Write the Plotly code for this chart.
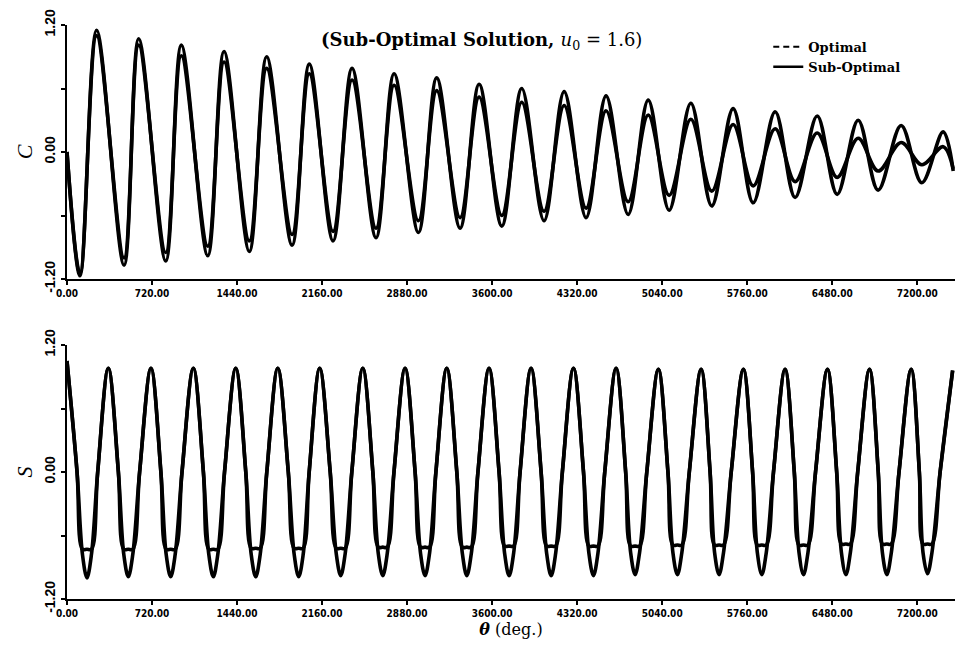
import plotly.graph_objects as go
from plotly.subplots import make_subplots

# ---------------- data ----------------
# Top panel: C versus theta (deg.) -- extrema of the two curves
c_theta = [0, 110, 251, 483, 607, 836, 968, 1192, 1330, 1544, 1691, 1906, 2052, 2253,
           2414, 2617, 2770, 2976, 3131, 3329, 3490, 3682, 3851, 4040, 4210, 4396,
           4565, 4752, 4922, 5099, 5283, 5460, 5641, 5811, 5997, 6166, 6353, 6522,
           6700, 6869, 7064, 7239, 7420, 7505]
c_optimal = [0.0, -1.17, 1.15, -1.07, 1.07, -1.03, 1.01, -0.98, 0.95, -0.94, 0.90,
             -0.88, 0.83, -0.84, 0.79, -0.81, 0.74, -0.76, 0.70, -0.72, 0.64, -0.70,
             0.60, -0.65, 0.57, -0.62, 0.53, -0.59, 0.49, -0.55, 0.46, -0.51, 0.41,
             -0.48, 0.38, -0.43, 0.34, -0.40, 0.30, -0.36, 0.25, -0.29, 0.19, -0.18]
c_suboptimal = [0.0, -1.15, 1.10, -1.00, 1.01, -0.95, 0.91, -0.89, 0.85, -0.84, 0.79,
                -0.78, 0.74, -0.75, 0.68, -0.72, 0.63, -0.65, 0.58, -0.62, 0.52, -0.60,
                0.47, -0.56, 0.44, -0.53, 0.39, -0.47, 0.35, -0.41, 0.31, -0.37, 0.26,
                -0.32, 0.22, -0.28, 0.18, -0.24, 0.13, -0.18, 0.09, -0.12, 0.05, -0.16]

# Bottom panel: S versus theta (deg.)
# per cycle: down-crossing, start of flat, trough, end of flat, up-crossing, peak
s_theta = [0,
           85, 131, 169, 207, 260, 350,
           435, 481, 519, 557, 615, 711,
           795, 840, 878, 916, 974, 1070,
           1155, 1201, 1239, 1277, 1334, 1429,
           1514, 1560, 1598, 1636, 1692, 1785,
           1874, 1924, 1962, 2000, 2051, 2140,
           2229, 2280, 2318, 2356, 2412, 2505,
           2590, 2636, 2674, 2712, 2769, 2863,
           2948, 2994, 3032, 3070, 3124, 3216,
           3301, 3348, 3386, 3424, 3480, 3574,
           3659, 3706, 3744, 3782, 3837, 3930,
           4015, 4062, 4100, 4138, 4195, 4289,
           4374, 4420, 4458, 4496, 4554, 4650,
           4731, 4773, 4811, 4849, 4910, 5008,
           5089, 5131, 5169, 5207, 5270, 5370,
           5446, 5484, 5522, 5560, 5625, 5728,
           5806, 5846, 5884, 5922, 5983, 6081,
           6159, 6199, 6237, 6275, 6339, 6440,
           6518, 6558, 6596, 6634, 6696, 6796,
           6870, 6905, 6943, 6981, 7046, 7149,
           7218, 7249, 7287, 7325, 7394, 7500]
s_optimal = [1.05,
             0.0, -0.78, -1.00, -0.78, 0.0, 0.98,
             0.0, -0.78, -0.99, -0.78, 0.0, 0.98,
             0.0, -0.78, -0.99, -0.78, 0.0, 0.98,
             0.0, -0.78, -0.99, -0.78, 0.0, 0.98,
             0.0, -0.78, -0.99, -0.78, 0.0, 0.98,
             0.0, -0.78, -0.99, -0.78, 0.0, 0.98,
             0.0, -0.77, -0.98, -0.77, 0.0, 0.98,
             0.0, -0.77, -0.98, -0.77, 0.0, 0.98,
             0.0, -0.77, -0.98, -0.77, 0.0, 0.98,
             0.0, -0.77, -0.98, -0.77, 0.0, 0.98,
             0.0, -0.77, -0.98, -0.77, 0.0, 0.98,
             0.0, -0.77, -0.98, -0.77, 0.0, 0.98,
             0.0, -0.77, -0.98, -0.77, 0.0, 0.98,
             0.0, -0.76, -0.97, -0.76, 0.0, 0.97,
             0.0, -0.76, -0.97, -0.76, 0.0, 0.97,
             0.0, -0.76, -0.97, -0.76, 0.0, 0.97,
             0.0, -0.76, -0.97, -0.76, 0.0, 0.97,
             0.0, -0.76, -0.97, -0.76, 0.0, 0.97,
             0.0, -0.76, -0.97, -0.76, 0.0, 0.97,
             0.0, -0.76, -0.97, -0.76, 0.0, 0.97,
             0.0, -0.76, -0.96, -0.76, 0.0, 0.96]
s_suboptimal = [1.05,
                0.0, -0.73, -0.73, -0.73, 0.0, 0.98,
                0.0, -0.73, -0.73, -0.73, 0.0, 0.98,
                0.0, -0.73, -0.73, -0.73, 0.0, 0.98,
                0.0, -0.73, -0.73, -0.73, 0.0, 0.98,
                0.0, -0.72, -0.72, -0.72, 0.0, 0.98,
                0.0, -0.72, -0.72, -0.72, 0.0, 0.98,
                0.0, -0.72, -0.72, -0.72, 0.0, 0.98,
                0.0, -0.71, -0.71, -0.71, 0.0, 0.98,
                0.0, -0.71, -0.71, -0.71, 0.0, 0.98,
                0.0, -0.71, -0.71, -0.71, 0.0, 0.98,
                0.0, -0.70, -0.70, -0.70, 0.0, 0.98,
                0.0, -0.70, -0.70, -0.70, 0.0, 0.98,
                0.0, -0.70, -0.70, -0.70, 0.0, 0.98,
                0.0, -0.70, -0.70, -0.70, 0.0, 0.97,
                0.0, -0.69, -0.69, -0.69, 0.0, 0.97,
                0.0, -0.69, -0.69, -0.69, 0.0, 0.97,
                0.0, -0.69, -0.69, -0.69, 0.0, 0.97,
                0.0, -0.69, -0.69, -0.69, 0.0, 0.97,
                0.0, -0.68, -0.68, -0.68, 0.0, 0.97,
                0.0, -0.68, -0.68, -0.68, 0.0, 0.97,
                0.0, -0.68, -0.68, -0.68, 0.0, 0.96]

x_tickvals = [0, 720, 1440, 2160, 2880, 3600, 4320, 5040, 5760, 6480, 7200]
x_ticktext = ["0.00", "720.00", "1440.00", "2160.00", "2880.00", "3600.00",
              "4320.00", "5040.00", "5760.00", "6480.00", "7200.00"]
y_tickvals = [-1.2, 0.0, 1.2]
y_ticktext = ["-1.20", "0.00", "1.20"]
x_range = [0, 7520]
y_range = [-1.2, 1.2]

# ---------------- figure ----------------
fig = make_subplots(rows=2, cols=1)
line_style = dict(color="black", width=3.6, shape="spline", smoothing=1.0)

fig.add_trace(go.Scatter(x=c_theta, y=c_optimal, mode="lines", line=line_style,
                         name="Optimal", showlegend=False, hoverinfo="skip"), row=1, col=1)
fig.add_trace(go.Scatter(x=c_theta, y=c_suboptimal, mode="lines", line=line_style,
                         name="Sub-Optimal", showlegend=False, hoverinfo="skip"), row=1, col=1)
fig.add_trace(go.Scatter(x=s_theta, y=s_optimal, mode="lines", line=line_style,
                         name="Optimal", showlegend=False, hoverinfo="skip"), row=2, col=1)
fig.add_trace(go.Scatter(x=s_theta, y=s_suboptimal, mode="lines", line=line_style,
                         name="Sub-Optimal", showlegend=False, hoverinfo="skip"), row=2, col=1)

# legend entries
fig.add_trace(go.Scatter(x=[None], y=[None], mode="lines", name="Optimal",
                         line=dict(color="black", width=2, dash="6px,4px")), row=1, col=1)
fig.add_trace(go.Scatter(x=[None], y=[None], mode="lines", name="Sub-Optimal",
                         line=dict(color="black", width=2.5)), row=1, col=1)

xaxis_common = dict(
    range=x_range, tickvals=x_tickvals, ticktext=x_ticktext, showgrid=False,
    zeroline=False, showline=True, linecolor="black", linewidth=2,
    ticks="outside", ticklen=4, tickwidth=2, tickcolor="black",
    tickfont=dict(family="DejaVu Sans Condensed, DejaVu Sans, sans-serif", size=10,
                  color="black", weight="bold"),
    automargin=False,
)
yaxis_common = dict(
    range=y_range, tickvals=y_tickvals, ticktext=y_ticktext, showgrid=False,
    zeroline=False, showline=True, linecolor="black", linewidth=2,
    ticks="outside", ticklen=4, tickwidth=2, tickcolor="black", tickangle=-90,
    minor=dict(tickvals=[-0.6, 0.6], ticks="outside", ticklen=4, tickwidth=2,
               tickcolor="black"),
    tickfont=dict(family="Liberation Sans, Arial, sans-serif", size=14,
                  color="black", weight="bold"),
    automargin=False,
)

fig.update_xaxes(**xaxis_common)
fig.update_yaxes(**yaxis_common)

fig.update_layout(
    width=959, height=650,
    margin=dict(l=67, r=4, t=25, b=51),
    paper_bgcolor="white", plot_bgcolor="white",
    xaxis=dict(domain=[0, 1], anchor="y"),
    yaxis=dict(domain=[0.5575, 1.0], anchor="x",
               title=dict(text="<i>C</i>", standoff=4,
                          font=dict(family="Liberation Serif, serif", size=22, color="black"))),
    xaxis2=dict(domain=[0, 1], anchor="y2",
                title=dict(text="<b><i>θ</i></b> (deg.)", standoff=6,
                           font=dict(family="DejaVu Serif, serif", size=16, color="black"))),
    yaxis2=dict(domain=[0.0, 0.4425], anchor="x2",
                title=dict(text="<i>S</i>", standoff=4,
                           font=dict(family="Liberation Serif, serif", size=22, color="black"))),
    legend=dict(x=0.944, xanchor="right", y=0.988, yanchor="top",
                bgcolor="rgba(0,0,0,0)", tracegroupgap=0,
                font=dict(family="DejaVu Serif, serif", size=13, color="black", weight="bold")),
    annotations=[dict(
        text="<b>(Sub-Optimal Solution, </b><i>u</i><sub>0</sub> = 1.6)",
        x=0.467, y=0.972, xref="paper", yref="paper", xanchor="center", yanchor="middle",
        showarrow=False,
        font=dict(family="DejaVu Serif, serif", size=18, color="black"))],
)

fig.write_html("out.html")
